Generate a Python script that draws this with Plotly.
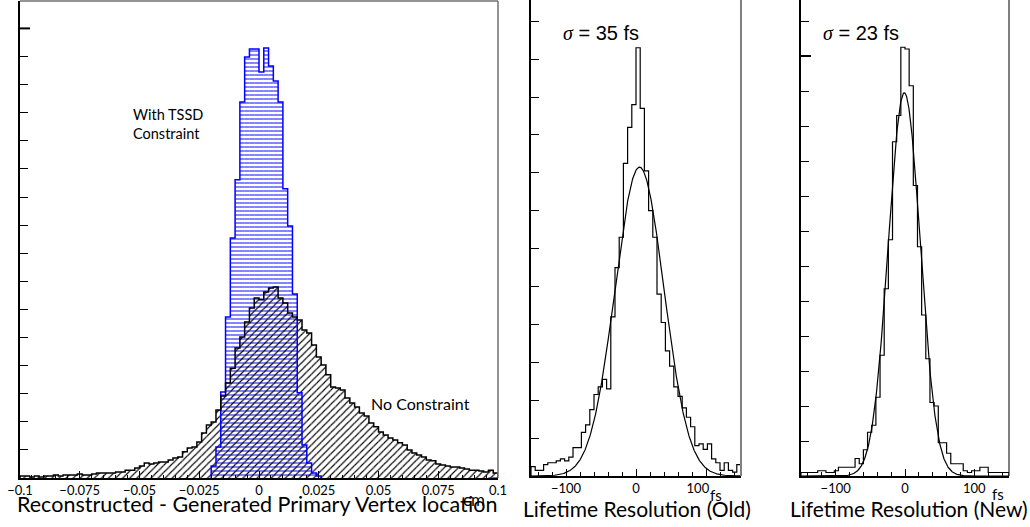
import plotly.graph_objects as go
import numpy as np

# ---------------- data ----------------
# Reconstructed - generated primary vertex position (cm), bins of 0.002 cm
vtx_lo = -0.1
vtx_bin = 0.002
no_constraint = [7, 7, 4, 7, 4, 7, 7, 11, 7, 11,
                 11, 11, 14, 11, 11, 14, 18, 18, 18, 18,
                 21, 21, 28, 28, 36, 43, 53, 50, 53, 57,
                 57, 64, 71, 75, 93, 107, 110, 128, 160, 189,
                 199, 242, 292, 338, 391, 463, 502, 555, 605, 641,
                 634, 662, 676, 680, 641, 623, 587, 573, 562, 527,
                 516, 473, 431, 402, 367, 324, 320, 313, 285, 267,
                 253, 231, 221, 196, 182, 164, 153, 142, 135, 125,
                 117, 100, 89, 82, 75, 64, 61, 50, 46, 43,
                 39, 39, 36, 32, 28, 28, 25, 21, 28, 18]
tssd_lo = -0.020
tssd = [43, 110, 306, 573, 854, 1061, 1338, 1498, 1527, 1527, 1445, 1530,
        1466, 1413, 1338, 1029, 897, 655, 303, 117, 53, 18, 7]
vtx_ticks = [-0.1, -0.075, -0.05, -0.025, 0, 0.025, 0.05, 0.075, 0.1]
vtx_ticktext = ["\u22120.1", "\u22120.075", "\u22120.05", "\u22120.025", "0",
                "0.025", "0.05", "0.075", "0.1"]

# Lifetime resolution (fs), bins of 6 fs from -150 to 150
t_lo = -150
t_bin = 6
old_res = [5, 3, 3, 6, 7, 7, 8, 9, 8, 10, 15, 15, 23, 27, 35, 43, 47, 51, 46, 84,
           110, 126, 165, 184, 196, 226, 194, 161, 140, 126, 96, 81, 66, 58, 47,
           42, 36, 31, 26, 16, 17, 14, 17, 9, 7, 3, 7, 3, 2, 6]
new_res = [2, 2, 2, 2, 3, 3, 2, 2, 3, 5, 5, 5, 5, 10, 7, 15, 25, 29, 45, 69,
           107, 135, 191, 206, 245, 244, 223, 166, 131, 92, 67, 42, 40, 19, 19,
           13, 7, 7, 7, 3, 2, 3, 3, 5, 5, 2, 2, 2, 2, 2]
# Gaussian fit parameters (amplitude, mean, sigma)
old_fit = (163, 5, 35)
new_fit = (219, -1, 23)
t_ticks = [-100, 0, 100]
t_ticktext_old = ["\u2212100", "0", "100\u2003\u2002"]
t_ticktext_new = ["\u2212100", "0", "100"]

# ---------------- helpers ----------------
W, H = 1030, 527
GEO = "Lato"


def fx(p):
    return p / W


def fy(p):
    return 1 - p / H


def step_outline(lo, width, counts):
    n = len(counts)
    edges = lo + width * np.arange(n + 1)
    xs = np.concatenate([[edges[0]], edges[:n], [edges[n]]])
    ys = np.concatenate([[0], counts, [0]])
    return xs, ys


def centers(lo, width, counts):
    return lo + width * (np.arange(len(counts)) + 0.5)


CLEAR = "rgba(0,0,0,0)"
fig = go.Figure()

# ---- vertex panel: hatched histograms ----
fig.add_trace(go.Bar(
    x=centers(tssd_lo, vtx_bin, tssd), y=tssd, width=vtx_bin,
    marker=dict(color=CLEAR, line=dict(width=0),
                pattern=dict(shape="-", size=4, solidity=0.28, fillmode="replace",
                             fgcolor="#2020ff", bgcolor=CLEAR)),
    xaxis="x", yaxis="y", showlegend=False))
fig.add_trace(go.Bar(
    x=centers(vtx_lo, vtx_bin, no_constraint), y=no_constraint, width=vtx_bin,
    marker=dict(color=CLEAR, line=dict(width=0),
                pattern=dict(shape="/", size=5, solidity=0.22, fillmode="replace",
                             fgcolor="black", bgcolor=CLEAR)),
    xaxis="x", yaxis="y", showlegend=False))
xs, ys = step_outline(tssd_lo, vtx_bin, tssd)
fig.add_trace(go.Scatter(x=xs, y=ys, mode="lines", line_shape="hv",
                         line=dict(color="#0000ff", width=1.5),
                         xaxis="x", yaxis="y", showlegend=False))
xs, ys = step_outline(vtx_lo, vtx_bin, no_constraint)
fig.add_trace(go.Scatter(x=xs, y=ys, mode="lines", line_shape="hv",
                         line=dict(color="black", width=1.5),
                         xaxis="x", yaxis="y", showlegend=False))

# ---- lifetime panels: histogram + gaussian fit ----
tt = np.linspace(-150, 150, 601)
for counts, fit, xa, ya in [(old_res, old_fit, "x2", "y2"),
                            (new_res, new_fit, "x3", "y3")]:
    xs, ys = step_outline(t_lo, t_bin, counts)
    fig.add_trace(go.Scatter(x=xs, y=ys, mode="lines", line_shape="hv",
                             line=dict(color="black", width=1.2),
                             xaxis=xa, yaxis=ya, showlegend=False))
    amp, mu, sig = fit
    fig.add_trace(go.Scatter(x=tt, y=amp * np.exp(-0.5 * ((tt - mu) / sig) ** 2),
                             mode="lines", line=dict(color="black", width=1.2),
                             xaxis=xa, yaxis=ya, showlegend=False))

tickfont = dict(family=GEO, size=13, color="black")
common_x = dict(showgrid=False, zeroline=False, showline=True, linecolor="black",
                linewidth=1.5, ticks="inside", tickcolor="black", tickfont=tickfont,
                ticklen=7, tickmode="array", automargin=False)
common_y = dict(showgrid=False, zeroline=False, showline=True, linecolor="black",
                linewidth=1.8, ticks="inside", tickcolor="black", ticklen=8,
                showticklabels=False, tickmode="linear", tick0=0, automargin=False)

# panel geometry in pixels
p1 = dict(l=20, r=498, t=1, b=478)
p2 = dict(l=531, r=741, t=0, b=476)
p3 = dict(l=801, r=1009, t=0, b=476)

fig.update_layout(
    width=W, height=H, margin=dict(l=0, r=0, t=0, b=0, autoexpand=False),
    paper_bgcolor="white", plot_bgcolor="white", barmode="overlay",
    xaxis=dict(common_x, domain=[fx(p1["l"]), fx(p1["r"])], range=[-0.1, 0.1],
               tickvals=vtx_ticks, ticktext=vtx_ticktext, anchor="y",
               minor=dict(ticks="inside", dtick=0.005, tick0=0, ticklen=3,
                          tickcolor="black")),
    yaxis=dict(common_y, domain=[fy(p1["b"]), fy(p1["t"])],
               range=[0, (p1["b"] - p1["t"]) / 28.1 * 100], dtick=100, anchor="x"),
    xaxis2=dict(common_x, domain=[fx(p2["l"]), fx(p2["r"])], range=[-150, 150],
                tickvals=t_ticks, ticktext=t_ticktext_old, anchor="y2",
                minor=dict(ticks="inside", dtick=20, tick0=0, ticklen=4,
                           tickcolor="black")),
    yaxis2=dict(common_y, domain=[fy(p2["b"]), fy(p2["t"])],
                range=[0, (p2["b"] - p2["t"]) / 37.9 * 20], dtick=20, anchor="x2"),
    xaxis3=dict(common_x, domain=[fx(p3["l"]), fx(p3["r"])], range=[-150, 150],
                tickvals=t_ticks, ticktext=t_ticktext_new, anchor="y3",
                minor=dict(ticks="inside", dtick=20, tick0=0, ticklen=4,
                           tickcolor="black")),
    yaxis3=dict(common_y, domain=[fy(p3["b"]), fy(p3["t"])],
                range=[0, (p3["b"] - p3["t"]) / 35.0 * 20], dtick=20, anchor="x3"),
)

shapes = [
    # frame of the vertex panel
    dict(type="line", xref="paper", yref="paper", x0=fx(p1["l"]), x1=fx(p1["r"]),
         y0=fy(p1["t"]), y1=fy(p1["t"]), line=dict(color="#707070", width=1.5)),
    dict(type="line", xref="paper", yref="paper", x0=fx(p1["r"]), x1=fx(p1["r"]),
         y0=fy(p1["t"]), y1=fy(p1["b"]), line=dict(color="#707070", width=1.5)),
    dict(type="line", xref="paper", yref="paper", x0=fx(p2["r"]), x1=fx(p2["r"]),
         y0=fy(p2["t"]), y1=fy(p2["b"]), line=dict(color="#808080", width=2)),
    dict(type="line", xref="paper", yref="paper", x0=fx(p3["r"]), x1=fx(p3["r"]),
         y0=fy(p3["t"]), y1=fy(p3["b"]), line=dict(color="black", width=1)),
    # heavier major ticks
    dict(type="line", xref="x domain", yref="y", x0=0, x1=10 / 478, y0=1600, y1=1600,
         line=dict(color="black", width=2)),
    dict(type="line", xref="x3 domain", yref="y3", x0=0, x1=10 / 208, y0=240, y1=240,
         line=dict(color="black", width=2)),
    # red overflow segment on the vertex axis
    dict(type="line", xref="x", yref="y", x0=0.096, x1=0.1, y0=0, y1=0,
         line=dict(color="red", width=1.5)),
]
fig.update_layout(shapes=shapes)


def txt(text, x, y, size, xanchor="center", family=GEO, align="center"):
    return dict(text=text, x=fx(x), y=fy(y), xref="paper", yref="paper",
                xanchor=xanchor, yanchor="middle", showarrow=False, align=align,
                font=dict(family=family, size=size, color="black"))


sigma_html = ('<span style="font-family:Liberation Serif"><i>\u03c3</i></span>'
              ' = {} fs')
fig.update_layout(annotations=[
    txt("Reconstructed - Generated Primary Vertex location", 257, 504, 21.5),
    txt("cm", 474, 499, 17),
    txt("With TSSD<br>Constraint", 131, 124, 14.5, xanchor="left", align="left"),
    txt("No Constraint", 369, 403, 16, xanchor="left"),
    txt(sigma_html.format(35), 561, 33, 20, xanchor="left", family="Liberation Sans"),
    txt(sigma_html.format(23), 821, 33, 20, xanchor="left", family="Liberation Sans"),
    txt("Lifetime Resolution (Old)", 637, 508, 21),
    txt("Lifetime Resolution (New)", 909, 508, 21),
    txt("fs", 716, 495, 15),
    txt("fs", 998, 494, 15),
])

fig.write_html("out.html")
